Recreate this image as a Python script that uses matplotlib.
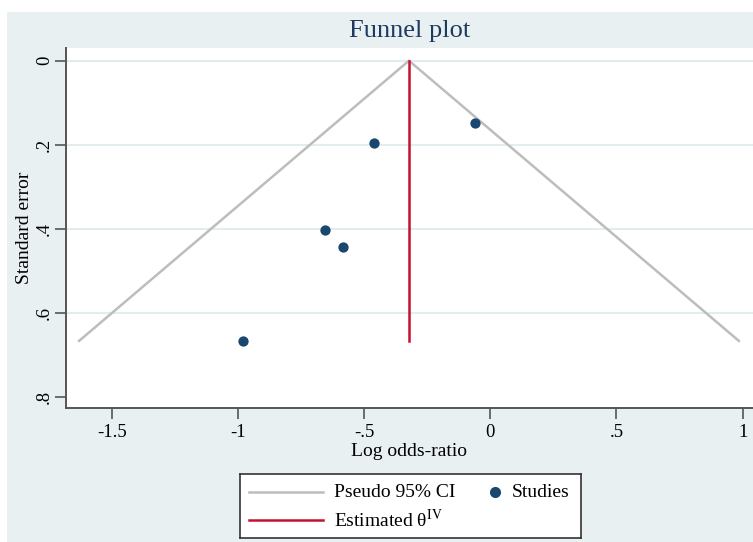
import matplotlib
matplotlib.use("Agg")
import matplotlib.pyplot as plt
from matplotlib.patches import Rectangle

plt.rcParams['font.family'] = ['Liberation Serif', 'DejaVu Serif']
plt.rcParams['mathtext.fontset'] = 'stix'

# studies: log odds-ratio and its standard error
log_or = [-0.460, -0.059, -0.655, -0.582, -0.981]
se = [0.197, 0.148, 0.403, 0.443, 0.667]

# pooled estimate and pseudo 95% CI limits read off the funnel
theta = -0.322
se_max = 0.667
ci_x = [-1.629, theta, 0.985]
ci_y = [se_max, 0, se_max]

xticks = [-1.5, -1, -0.5, 0, 0.5, 1]
xticklabels = ['-1.5', '-1', '-.5', '0', '.5', '1']
yticks = [0, 0.2, 0.4, 0.6, 0.8]
yticklabels = ['0', '.2', '.4', '.6', '.8']

W, H = 753, 542
bg = '#e8f0f2'
navy = '#1a476f'
red = '#c8102e'
gray = '#bdbdbd'
axcol = '#555555'

fig = plt.figure(figsize=(W / 100, H / 100), dpi=100, facecolor='white')
fig.patches.append(Rectangle((7 / W, 0), 1, (H - 12) / H, transform=fig.transFigure,
                             facecolor=bg, edgecolor='none', zorder=-10))

ax = fig.add_axes([65.7 / W, (H - 407.7) / H, (W - 65.7) / W, (407.7 - 48.3) / H])
ax.set_facecolor('white')
ax.set_xlim(-1.682, 1.041)
ax.set_ylim(0.826, -0.0295)

for y in yticks[:-1]:
    ax.axhline(y, color='#e3edf0', lw=1.5, zorder=0)

ax.plot(ci_x, ci_y, color=gray, lw=1.8, zorder=2)
ax.plot([theta, theta], [0, se_max], color=red, lw=1.8, zorder=3)
ax.scatter(log_or, se, s=55, color=navy, zorder=4, linewidths=0)

for s in ['top', 'right']:
    ax.spines[s].set_visible(False)
for s in ['left', 'bottom']:
    ax.spines[s].set_color(axcol)
    ax.spines[s].set_linewidth(1.4)

ax.set_xticks(xticks)
ax.set_xticklabels(xticklabels)
ax.set_yticks(yticks)
ax.set_yticklabels(yticklabels, rotation=90, va='center')
ax.tick_params(length=8, width=1.2, color=axcol, labelsize=13.5, labelcolor='black')
ax.tick_params(axis='x', pad=4)
ax.tick_params(axis='y', pad=1)

ax.set_xlabel('Log odds-ratio', fontsize=14, labelpad=1)
ax.set_ylabel('Standard error', fontsize=14, labelpad=2)

fig.text(410 / W, 1 - 31 / H, 'Funnel plot', ha='center', va='center',
         fontsize=19, color='#1f3a5f')

# legend box drawn in its own pixel-scaled axes
lg = fig.add_axes([240 / W, (H - 538.3) / H, 341 / W, 64 / H])
lg.set_xlim(0, 341)
lg.set_ylim(64, 0)
lg.set_xticks([])
lg.set_yticks([])
lg.set_facecolor('white')
for s in lg.spines.values():
    s.set_color('#333333')
    s.set_linewidth(1.2)
lg.plot([9, 83], [18, 18], color=gray, lw=1.8)
lg.text(94, 18, 'Pseudo 95% CI', va='center', fontsize=14)
lg.plot([255], [18], 'o', color=navy, ms=8, mew=0)
lg.text(272, 18, 'Studies', va='center', fontsize=14)
lg.plot([9, 83], [46, 46], color=red, lw=1.8)
lg.text(94, 46, 'Estimated θ$^{\\mathrm{IV}}$', va='center', fontsize=14)

fig.savefig('out.png', dpi=100, facecolor='white')
